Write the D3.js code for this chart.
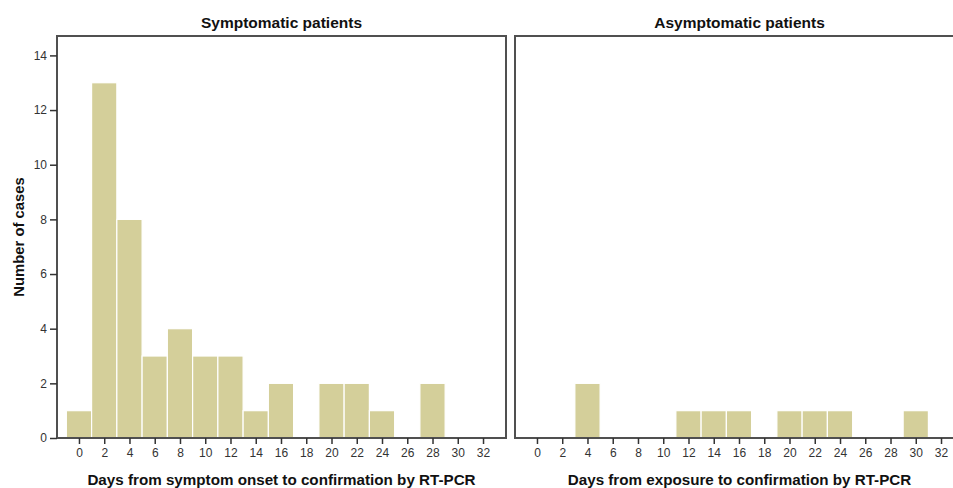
<!DOCTYPE html>
<html lang="en">
<head>
    <meta charset="UTF-8">
    <title>Days to confirmation by RT-PCR</title>
    <script src="https://d3js.org/d3.v7.min.js"></script>
    <style>
        body {
            margin: 0;
            padding: 0;
            background-color: #fff;
        }
        svg text {
            font-family: "Liberation Sans", Arial, sans-serif;
        }
    </style>
</head>
<body>
    <svg id="chart" width="953" height="488"></svg>

    <script>
        // Bin centres (each bin is 2 days wide)
        const binCenters = [0, 2, 4, 6, 8, 10, 12, 14, 16, 18, 20, 22, 24, 26, 28, 30, 32];
        const symptomaticCounts = [1, 13, 8, 3, 4, 3, 3, 1, 2, 0, 2, 2, 1, 0, 2, 0, 0];
        const asymptomaticCounts = [0, 0, 2, 0, 0, 0, 1, 1, 1, 0, 1, 1, 1, 0, 0, 1, 0];
        const xTicks = [0, 2, 4, 6, 8, 10, 12, 14, 16, 18, 20, 22, 24, 26, 28, 30, 32];
        const yTicks = [0, 2, 4, 6, 8, 10, 12, 14];

        const panels = [
            { title: "Symptomatic patients", xLabel: "Days from symptom onset to confirmation by RT-PCR", counts: symptomaticCounts, left: 57, showY: true },
            { title: "Asymptomatic patients", xLabel: "Days from exposure to confirmation by RT-PCR", counts: asymptomaticCounts, left: 515, showY: false }
        ];

        const svg = d3.select("#chart");
        const plotTop = 36, plotBottom = 438, panelW = 449;
        const barColor = "#d4cf9a";
        const frameColor = "#505050";

        const y = d3.scaleLinear().domain([0, 14.71]).range([plotBottom, plotTop]);

        panels.forEach(p => {
            const x = d3.scaleLinear().domain([-1.74, 33.82]).range([p.left, p.left + panelW]);
            const g = svg.append("g");

            // bars
            g.selectAll("rect.bar")
                .data(binCenters.map((c, i) => ({ c, v: p.counts[i] })).filter(d => d.v > 0))
                .enter()
                .append("rect")
                .attr("class", "bar")
                .attr("x", d => x(d.c - 1))
                .attr("width", d => x(d.c + 1) - x(d.c - 1))
                .attr("y", d => y(d.v))
                .attr("height", d => y(0) - y(d.v))
                .attr("fill", barColor)
                .attr("stroke", "#fff")
                .attr("stroke-width", 1.2);

            // frame
            g.append("rect")
                .attr("x", p.left)
                .attr("y", plotTop)
                .attr("width", panelW)
                .attr("height", plotBottom - plotTop)
                .attr("fill", "none")
                .attr("stroke", frameColor)
                .attr("stroke-width", 2);

            // x axis
            const xAxis = g.append("g")
                .attr("transform", `translate(0,${plotBottom})`)
                .call(d3.axisBottom(x).tickValues(xTicks).tickSize(6).tickPadding(4));
            xAxis.select(".domain").remove();
            xAxis.selectAll("line").attr("stroke", "#333").attr("stroke-width", 1.5);
            xAxis.selectAll("text").attr("font-size", 12).attr("fill", "#333")
                .attr("font-family", "'Liberation Sans', Arial, sans-serif");

            if (p.showY) {
                const yAxis = g.append("g")
                    .attr("transform", `translate(${p.left},0)`)
                    .call(d3.axisLeft(y).tickValues(yTicks).tickSize(7).tickPadding(3));
                yAxis.select(".domain").remove();
                yAxis.selectAll("line").attr("stroke", "#333").attr("stroke-width", 1.5);
                yAxis.selectAll("text").attr("font-size", 12).attr("fill", "#333")
                    .attr("font-family", "'Liberation Sans', Arial, sans-serif");

                svg.append("text")
                    .attr("transform", `translate(24,${(plotTop + plotBottom) / 2}) rotate(-90)`)
                    .attr("text-anchor", "middle")
                    .attr("font-size", 14.8)
                    .attr("font-weight", "bold")
                    .attr("fill", "#111")
                    .text("Number of cases");
            }

            // panel title
            svg.append("text")
                .attr("x", p.left + panelW / 2)
                .attr("y", 28)
                .attr("text-anchor", "middle")
                .attr("font-size", 15.5)
                .attr("font-weight", "bold")
                .attr("fill", "#111")
                .text(p.title);

            // x axis title
            svg.append("text")
                .attr("x", p.left + panelW / 2)
                .attr("y", 485)
                .attr("text-anchor", "middle")
                .attr("font-size", 15.2)
                .attr("font-weight", "bold")
                .attr("fill", "#111")
                .text(p.xLabel);
        });
    </script>
</body>
</html>
